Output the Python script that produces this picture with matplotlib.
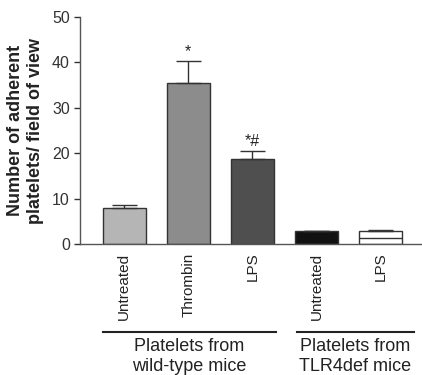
import matplotlib
matplotlib.use("Agg")
import matplotlib.pyplot as plt
from matplotlib.transforms import blended_transform_factory

plt.rcParams['font.family'] = ['Liberation Sans', 'DejaVu Sans']

categories = ["Untreated", "Thrombin", "LPS", "Untreated", "LPS"]
values = [8.0, 35.4, 18.7, 2.8, 2.8]
errors = [0.6, 4.9, 1.8, 0.15, 0.3]
annotations = ["", "*", "*#", "", ""]
colors = ["#b5b5b5", "#8c8c8c", "#4f4f4f", "#111111", "#ffffff"]
group_labels = ["Platelets from\nwild-type mice", "Platelets from\nTLR4def mice"]
group_spans = [(-0.34, 2.375), (2.70, 4.52)]
ylabel = "Number of adherent\nplatelets/ field of view"

fig = plt.figure(figsize=(4.22, 3.75), dpi=100)
ax = fig.add_axes([0.19, 0.349, 0.81, 0.606])

x = list(range(len(values)))
ax.bar(x, values, width=0.68, color=colors, edgecolor="#333333", linewidth=1.0, zorder=2)
ax.errorbar(x, values, yerr=[[0] * len(errors), errors], fmt="none", ecolor="#333333",
            elinewidth=1.0, capsize=9, capthick=1.0, zorder=3)
# inner line of white bar
ax.hlines(values[4] / 2, 4 - 0.34, 4 + 0.34, color="#333333", linewidth=1.0, zorder=3)

for xi, v, e, a in zip(x, values, errors, annotations):
    if a:
        ax.text(xi, v + e + 0.5, a, ha="center", va="bottom", fontsize=11.5, color="#222222")

ax.set_xlim(-0.69, 4.65)
ax.set_ylim(0, 50)
ax.set_yticks([0, 10, 20, 30, 40, 50])
ax.tick_params(axis='y', labelsize=11.5, colors="#333333", length=4, width=1)
ax.set_xticks(x)
ax.set_xticklabels(categories, rotation=90, fontsize=11, color="#222222")
ax.tick_params(axis='x', length=0, pad=6)
for s in ["top", "right"]:
    ax.spines[s].set_visible(False)
for s in ["left", "bottom"]:
    ax.spines[s].set_color("#555555")
    ax.spines[s].set_linewidth(1.0)
ax.set_ylabel(ylabel, fontsize=13, fontweight="bold", color="#222222", labelpad=6)

# group annotations
tr = blended_transform_factory(ax.transData, ax.transAxes)
line_y = -0.385
for label, (x0, x1) in zip(group_labels, group_spans):
    ax.plot([x0, x1], [line_y, line_y], color="#222222", linewidth=1.5,
            transform=tr, clip_on=False)
    ax.text((x0 + x1) / 2, line_y - 0.03, label, ha="center", va="top", fontsize=13,
            color="#222222", transform=tr, linespacing=1.2)

fig.savefig("out.png", dpi=100)
